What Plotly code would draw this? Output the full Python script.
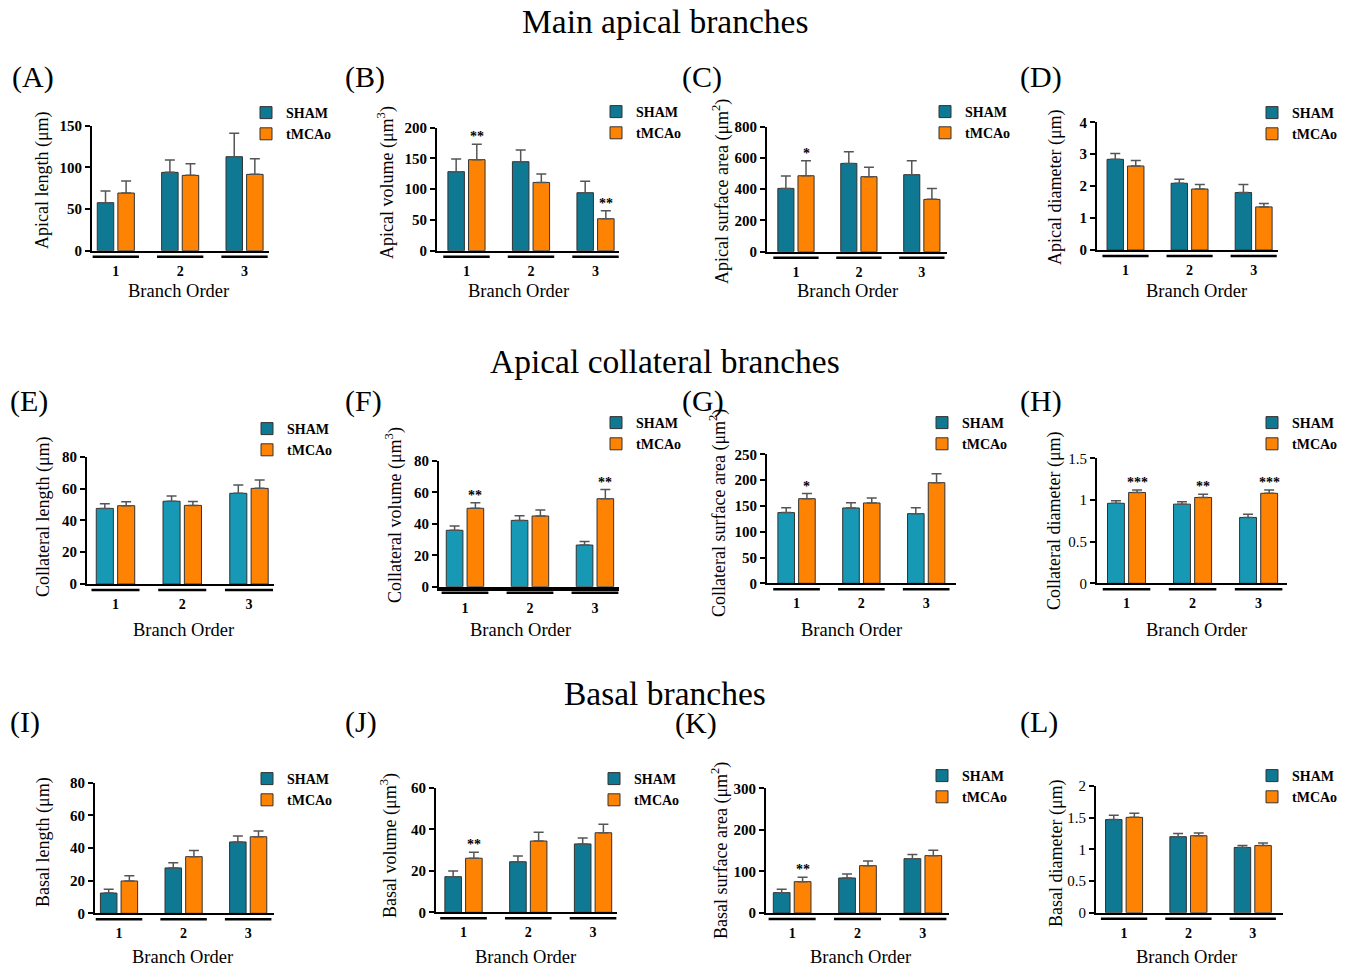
import plotly.graph_objects as go

W, H = 1349, 968
FONT = "Liberation Serif"

categories = ["1", "2", "3"]
series_names = ["SHAM", "tMCAo"]

# ---- data (means, upper SEM) ----
A_sham = [57.6, 94.0, 112.8];   A_sham_err = [14.0, 14.8, 28.2]
A_tmcao = [69.2, 90.4, 91.6];   A_tmcao_err = [14.4, 14.0, 18.8]
B_sham = [128.5, 144.7, 94.3];  B_sham_err = [20.5, 19.0, 18.7]
B_tmcao = [148.0, 111.0, 52.0]; B_tmcao_err = [25.0, 13.7, 13.0]
C_sham = [405, 565, 493];       C_sham_err = [79, 75, 89]
C_tmcao = [486, 480, 335];      C_tmcao_err = [96, 60, 70]
D_sham = [2.84, 2.09, 1.80];    D_sham_err = [0.18, 0.13, 0.25]
D_tmcao = [2.63, 1.91, 1.35];   D_tmcao_err = [0.17, 0.14, 0.11]
E_sham = [47.5, 52.0, 57.0];    E_sham_err = [3.0, 3.3, 5.2]
E_tmcao = [49.2, 49.4, 60.1];   E_tmcao_err = [2.5, 2.5, 5.2]
F_sham = [35.9, 42.2, 26.5];    F_sham_err = [2.7, 3.0, 2.2]
F_tmcao = [49.9, 45.0, 56.0];   F_tmcao_err = [3.6, 3.8, 5.8]
G_sham = [137, 146, 135];       G_sham_err = [9.6, 10.0, 11.6]
G_tmcao = [164, 155.7, 195];    G_tmcao_err = [9.8, 9.7, 17.5]
H_sham = [0.96, 0.95, 0.79];    H_sham_err = [0.03, 0.03, 0.04]
H_tmcao = [1.09, 1.03, 1.08];   H_tmcao_err = [0.03, 0.04, 0.04]
I_sham = [12.4, 27.8, 43.7];    I_sham_err = [2.3, 3.2, 3.6]
I_tmcao = [19.8, 34.7, 46.9];   I_tmcao_err = [3.2, 3.7, 3.5]
J_sham = [17.2, 24.4, 33.0];    J_sham_err = [2.7, 2.8, 2.9]
J_tmcao = [26.1, 34.4, 38.4];   J_tmcao_err = [2.9, 4.2, 4.1]
K_sham = [49.0, 84.2, 130.7];   K_sham_err = [8.0, 9.6, 10.3]
K_tmcao = [75.4, 113.9, 138.0]; K_tmcao_err = [10.4, 11.1, 12.8]
L_sham = [1.47, 1.20, 1.03];    L_sham_err = [0.07, 0.05, 0.03]
L_tmcao = [1.505, 1.215, 1.06]; L_tmcao_err = [0.065, 0.045, 0.04]

B_stars = ["**", "", "**"]
C_stars = ["*", "", ""]
F_stars = ["**", "", "**"]
G_stars = ["*", "", ""]
H_stars = ["***", "**", "***"]
J_stars = ["**", "", ""]
K_stars = ["**", "", ""]
no_stars = ["", "", ""]

y_titles = {
    "A": "Apical length (μm)", "B": "Apical volume (μm<sup>3</sup>)",
    "C": "Apical surface area (μm<sup>2</sup>)", "D": "Apical diameter (μm)",
    "E": "Collateral length (μm)", "F": "Collateral volume (μm<sup>3</sup>)",
    "G": "Collateral surface area (μm<sup>2</sup>)", "H": "Collateral diameter (μm)",
    "I": "Basal length (μm)", "J": "Basal volume (μm<sup>3</sup>)",
    "K": "Basal surface area (μm<sup>2</sup>)", "L": "Basal diameter (μm)",
}
y_max = {"A": 150, "B": 200, "C": 800, "D": 4, "E": 80, "F": 80, "G": 250, "H": 1.5,
         "I": 80, "J": 60, "K": 300, "L": 2}
y_dtick = {"A": 50, "B": 50, "C": 200, "D": 1, "E": 20, "F": 20, "G": 50, "H": 0.5,
           "I": 20, "J": 20, "K": 100, "L": 0.5}
section_titles = ["Main apical branches", "Apical collateral branches", "Basal branches"]
x_title = "Branch Order"

panel_data = {
    "A": (A_sham, A_sham_err, A_tmcao, A_tmcao_err, no_stars),
    "B": (B_sham, B_sham_err, B_tmcao, B_tmcao_err, B_stars),
    "C": (C_sham, C_sham_err, C_tmcao, C_tmcao_err, C_stars),
    "D": (D_sham, D_sham_err, D_tmcao, D_tmcao_err, no_stars),
    "E": (E_sham, E_sham_err, E_tmcao, E_tmcao_err, no_stars),
    "F": (F_sham, F_sham_err, F_tmcao, F_tmcao_err, F_stars),
    "G": (G_sham, G_sham_err, G_tmcao, G_tmcao_err, G_stars),
    "H": (H_sham, H_sham_err, H_tmcao, H_tmcao_err, H_stars),
    "I": (I_sham, I_sham_err, I_tmcao, I_tmcao_err, no_stars),
    "J": (J_sham, J_sham_err, J_tmcao, J_tmcao_err, J_stars),
    "K": (K_sham, K_sham_err, K_tmcao, K_tmcao_err, K_stars),
    "L": (L_sham, L_sham_err, L_tmcao, L_tmcao_err, no_stars),
}

# ---- layout geometry (pixels) ----
geom = {
 "A": dict(x0=92, x1=269, r=(-0.37, 2.38), yb=250.7, yt=125.7, leg=(246, 113), ytp=(43, 180), bo=(178, 291), lab=(10, 77)),
 "B": dict(x0=437, x1=619, r=(-0.457, 2.364), yb=250.7, yt=127.7, leg=(596, 112), ytp=(386, 183), bo=(518, 291), lab=(343, 77)),
 "C": dict(x0=767, x1=947, r=(-0.46, 2.40), yb=251.7, yt=126.7, leg=(925, 112), ytp=(721, 192), bo=(847, 291), lab=(680, 77)),
 "D": dict(x0=1097, x1=1278, r=(-0.445, 2.38), yb=250, yt=122.3, leg=(1252, 113), ytp=(1056, 187), bo=(1196, 291), lab=(1018, 77)),
 "E": dict(x0=87, x1=274, r=(-0.427, 2.375), yb=584, yt=456.7, leg=(247, 429), ytp=(43, 517), bo=(183, 630), lab=(8, 401)),
 "F": dict(x0=439, x1=619, r=(-0.4, 2.37), yb=586.7, yt=461, leg=(596, 423), ytp=(394, 515), bo=(520, 630), lab=(343, 401)),
 "G": dict(x0=767, x1=956, r=(-0.456, 2.46), yb=583.3, yt=454.3, leg=(922, 423), ytp=(718, 513), bo=(851, 630), lab=(680, 401)),
 "H": dict(x0=1097, x1=1287, r=(-0.447, 2.43), yb=583.3, yt=458.3, leg=(1252, 423), ytp=(1054, 521), bo=(1196, 630), lab=(1018, 401)),
 "I": dict(x0=95, x1=274, r=(-0.372, 2.40), yb=913.3, yt=782.7, leg=(247, 779), ytp=(43, 842), bo=(182, 957), lab=(8, 722)),
 "J": dict(x0=436, x1=617, r=(-0.425, 2.37), yb=912.3, yt=788, leg=(594, 779), ytp=(389, 845), bo=(525, 957), lab=(343, 722)),
 "K": dict(x0=766, x1=949, r=(-0.40, 2.40), yb=913, yt=788.3, leg=(922, 776), ytp=(720, 851), bo=(860, 957), lab=(673, 723)),
 "L": dict(x0=1096, x1=1283, r=(-0.436, 2.47), yb=912.7, yt=786, leg=(1252, 776), ytp=(1056, 853), bo=(1186, 957), lab=(1018, 722)),
}
section_pos = [(665, 22), (665, 361), (665, 693)]

SHAM_DARK = "#0F7892"
SHAM_LIGHT = "#1798B5"
ORANGE = "#FF8303"
BARGAP = 0.36
LIGHT_PANELS = "EFGH"

fig = go.Figure()
annotations = []
shapes = []

for idx, key in enumerate(geom):
    n = idx + 1
    g = geom[key]
    sham, sham_err, tm, tm_err, stars = panel_data[key]
    xa = "x" if n == 1 else f"x{n}"
    ya = "y" if n == 1 else f"y{n}"
    lg = "legend" if n == 1 else f"legend{n}"
    light = key in LIGHT_PANELS
    sham_col = SHAM_LIGHT if light else SHAM_DARK
    if light:
        # legend key in the darker teal (as in the original), no bars drawn
        fig.add_trace(go.Bar(
            x=categories, y=[None] * len(categories), name=series_names[0],
            xaxis=xa, yaxis=ya, legend=lg, offsetgroup="s",
            marker=dict(color=SHAM_DARK, line=dict(color="#333333", width=1)),
            showlegend=True, hoverinfo="skip"))
    for name, vals, errs, col, og, show in [
            (series_names[0], sham, sham_err, sham_col, "s", not light),
            (series_names[1], tm, tm_err, ORANGE, "t", True)]:
        fig.add_trace(go.Bar(
            x=categories, y=vals, name=name, xaxis=xa, yaxis=ya, legend=lg, offsetgroup=og,
            marker=dict(color=col, line=dict(color="#333333", width=1)),
            error_y=dict(type="data", array=errs, arrayminus=[0] * len(errs), symmetric=False,
                         color="#555555", thickness=1.5, width=5),
            showlegend=show,
        ))
    ax_suffix = "" if n == 1 else str(n)
    fig.update_layout(**{
        f"xaxis{ax_suffix}": dict(
            domain=[g["x0"] / W, g["x1"] / W], anchor=ya, type="category",
            range=list(g["r"]), showline=True, linecolor="black",
            linewidth=3.5 if key == "F" else 2,
            showgrid=False, zeroline=False, ticks="", ticklabelstandoff=6,
            tickfont=dict(family=FONT, size=14, color="black", weight="bold"),
            automargin=False, fixedrange=True),
        f"yaxis{ax_suffix}": dict(
            domain=[1 - g["yb"] / H, 1 - g["yt"] / H], anchor=xa,
            range=[0, y_max[key]], dtick=y_dtick[key], tick0=0,
            showline=True, linecolor="black", linewidth=2, showgrid=False, zeroline=False,
            ticks="outside", ticklen=5, tickwidth=2, tickcolor="black",
            tickfont=dict(family=FONT, size=15, color="black",
                          weight="normal" if key in "HL" else "bold"),
            automargin=False, fixedrange=True),
        lg: dict(x=g["leg"][0] / W, y=1 - (g["leg"][1] - 16) / H, xanchor="left", yanchor="top",
                 bgcolor="rgba(0,0,0,0)", font=dict(family=FONT, size=14, color="black", weight="bold"),
                 tracegroupgap=0, itemclick=False, itemdoubleclick=False),
    })
    # group underlines
    for i in range(len(categories)):
        shapes.append(dict(type="line", xref=xa, yref="paper",
                           x0=i - 0.36, x1=i + 0.36,
                           y0=1 - (g["yb"] + 6) / H, y1=1 - (g["yb"] + 6) / H,
                           line=dict(color="black", width=2.5)))
    # stars
    for i, s in enumerate(stars):
        if s:
            annotations.append(dict(text=s, xref=xa, yref=ya, x=i + (1 - BARGAP) / 4,
                                    y=tm[i] + tm_err[i], yanchor="bottom", showarrow=False, yshift=-2,
                                    font=dict(family=FONT, size=14, color="black", weight="bold")))
    # y title
    annotations.append(dict(text=y_titles[key], xref="paper", yref="paper",
                            x=g["ytp"][0] / W, y=1 - g["ytp"][1] / H, textangle=-90,
                            xanchor="center", yanchor="middle", showarrow=False,
                            font=dict(family=FONT, size=18, color="black")))
    # x title
    annotations.append(dict(text=x_title, xref="paper", yref="paper",
                            x=g["bo"][0] / W, y=1 - g["bo"][1] / H,
                            xanchor="center", yanchor="middle", showarrow=False,
                            font=dict(family=FONT, size=18.5, color="black")))
    # panel letter
    annotations.append(dict(text=f"({key})", xref="paper", yref="paper",
                            x=g["lab"][0] / W, y=1 - g["lab"][1] / H,
                            xanchor="left", yanchor="middle", showarrow=False,
                            font=dict(family=FONT, size=30, color="black")))

for t, (px, py) in zip(section_titles, section_pos):
    annotations.append(dict(text=t, xref="paper", yref="paper", x=px / W, y=1 - py / H,
                            xanchor="center", yanchor="middle", showarrow=False,
                            font=dict(family=FONT, size=33.5, color="black")))

fig.update_layout(
    width=W, height=H, margin=dict(l=0, r=0, t=0, b=0, pad=0), autosize=False,
    paper_bgcolor="white", plot_bgcolor="white",
    barmode="group", bargap=BARGAP, bargroupgap=0.2,
    annotations=annotations, shapes=shapes,
    font=dict(family=FONT, color="black"),
)

page_css = ("var h=document.documentElement.style;h.margin='0';h.padding='0';h.overflow='hidden';"
            "h.height='968px';var b=document.body.style;b.margin='0';b.padding='0';"
            "b.overflow='hidden';b.height='968px';")
fig.write_html("out.html", config={"displayModeBar": False}, post_script=page_css)
